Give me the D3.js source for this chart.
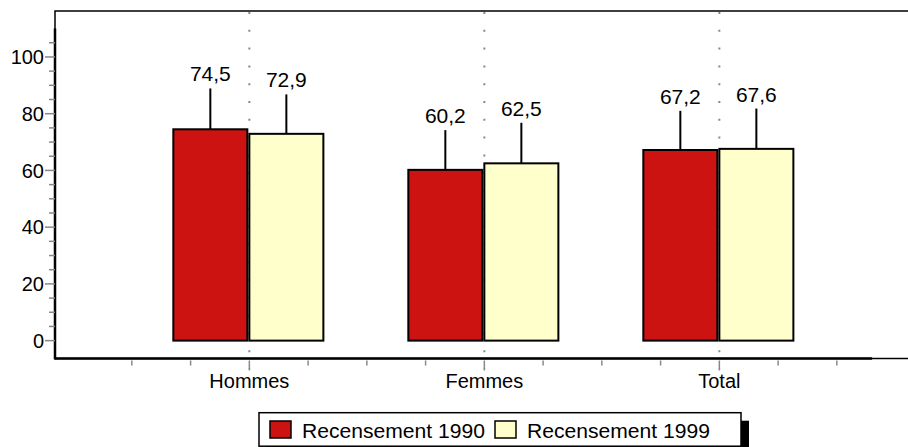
<!DOCTYPE html>
<html><head><meta charset="utf-8">
<script src="https://cdn.jsdelivr.net/npm/d3@7"></script>
<style>
html,body{margin:0;padding:0;background:#fff;}
svg{display:block;font-family:"Liberation Sans",Arial,sans-serif;}
</style></head>
<body>
<svg id="chart" width="908" height="447"></svg>
<script>
// ---- data ----
const categories = ["Hommes", "Femmes", "Total"];
const seriesNames = ["Recensement 1990", "Recensement 1999"];
const values1990 = [74.5, 60.2, 67.2];
const values1999 = [72.9, 62.5, 67.6];
const errors1990 = [14.4, 14.0, 13.8];
const errors1999 = [13.9, 14.3, 14.2];
const labels1990 = ["74,5", "60,2", "67,2"];
const labels1999 = ["72,9", "62,5", "67,6"];
const yMajorTicks = [0, 20, 40, 60, 80, 100];
const colors = ["#CD1212", "#FFFFCC"];

const svg = d3.select("#chart");
const L = 55, R = 905, T = 11, B = 358.5;
const x = d3.scaleLinear().domain([0.173, 3.79]).range([L, R]);
const y = d3.scaleLinear().domain([-6.3, 116.2]).range([B, T]);

// gridlines (dotted) at category positions
const catPos = categories.map((c, i) => i + 1);
svg.append("g").selectAll("line").data(catPos).join("line")
  .attr("x1", d => x(d)).attr("x2", d => x(d))
  .attr("y1", T + 1).attr("y2", B + 10)
  .attr("stroke", "#888").attr("stroke-width", 2)
  .attr("stroke-dasharray", "2,15.8");

// frame (thin)
svg.append("path")
  .attr("d", `M${R + 10},${T}H${L}V${B}H${R + 10}`)
  .attr("fill", "none").attr("stroke", "#000").attr("stroke-width", 1.5);

// y axis thick line
svg.append("line").attr("x1", L).attr("x2", L).attr("y1", y(110)).attr("y2", B + 1)
  .attr("stroke", "#000").attr("stroke-width", 2.5);
// x axis thick line
svg.append("line").attr("x1", L).attr("x2", x(3.65)).attr("y1", B).attr("y2", B)
  .attr("stroke", "#000").attr("stroke-width", 2.5);

// y ticks
const yMinor = d3.range(0, 106, 5).filter(v => !yMajorTicks.includes(v));
svg.append("g").selectAll("line").data(yMinor).join("line")
  .attr("x1", L - 6).attr("x2", L).attr("y1", d => y(d)).attr("y2", d => y(d))
  .attr("stroke", "#888").attr("stroke-width", 1.5);
svg.append("g").selectAll("line").data(yMajorTicks).join("line")
  .attr("x1", L - 10).attr("x2", L).attr("y1", d => y(d)).attr("y2", d => y(d))
  .attr("stroke", "#888").attr("stroke-width", 1.5);
svg.append("g").selectAll("text").data(yMajorTicks).join("text")
  .attr("x", L - 11).attr("y", d => y(d)).attr("dy", "0.36em")
  .attr("text-anchor", "end").attr("font-size", 20).attr("fill", "#000")
  .text(d => d);

// x ticks
const xMinor = d3.range(0.5, 3.51, 0.25).filter(v => Math.abs(v - Math.round(v)) > 0.01);
svg.append("g").selectAll("line").data(xMinor).join("line")
  .attr("x1", d => x(d)).attr("x2", d => x(d)).attr("y1", B + 2).attr("y2", B + 7)
  .attr("stroke", "#888").attr("stroke-width", 1.5);
svg.append("g").selectAll("line").data(catPos).join("line")
  .attr("x1", d => x(d)).attr("x2", d => x(d)).attr("y1", B + 2).attr("y2", B + 12)
  .attr("stroke", "#888").attr("stroke-width", 1.5);
svg.append("g").selectAll("text").data(categories).join("text")
  .attr("x", (d, i) => x(i + 1)).attr("y", B + 29)
  .attr("text-anchor", "middle").attr("font-size", 20).attr("fill", "#000")
  .text(d => d);

// bars
const step = x(2) - x(1);
const barW = step * 0.315;
const gap = 2;
const series = [
  {vals: values1990, errs: errors1990, labels: labels1990, off: -gap - barW, color: colors[0]},
  {vals: values1999, errs: errors1999, labels: labels1999, off: 0, color: colors[1]}
];
series.forEach(s => {
  const g = svg.append("g");
  const data = categories.map((c, i) => ({i, v: s.vals[i], e: s.errs[i], lab: s.labels[i]}));
  g.selectAll("line").data(data).join("line")
    .attr("x1", d => x(d.i + 1) + s.off + barW / 2).attr("x2", d => x(d.i + 1) + s.off + barW / 2)
    .attr("y1", d => y(d.v)).attr("y2", d => y(d.v + d.e))
    .attr("stroke", "#000").attr("stroke-width", 2);
  g.selectAll("rect").data(data).join("rect")
    .attr("x", d => x(d.i + 1) + s.off).attr("width", barW)
    .attr("y", d => y(d.v)).attr("height", d => y(0) - y(d.v))
    .attr("fill", s.color).attr("stroke", "#000").attr("stroke-width", 2);
  g.selectAll("text").data(data).join("text")
    .attr("x", d => x(d.i + 1) + s.off + barW / 2).attr("y", d => y(d.v + d.e) - 7)
    .attr("text-anchor", "middle").attr("font-size", 21).attr("fill", "#000")
    .text(d => d.lab);
});

// legend
const lg = svg.append("g");
const lx = 259, ly = 412.7, lw = 482, lh = 33.5;
lg.append("rect").attr("x", lx + 8).attr("y", ly + 8).attr("width", lw).attr("height", lh).attr("fill", "#000");
lg.append("rect").attr("x", lx).attr("y", ly).attr("width", lw).attr("height", lh)
  .attr("fill", "#fff").attr("stroke", "#000").attr("stroke-width", 1.5);
const itemX = [269, 494];
seriesNames.forEach((n, i) => {
  lg.append("rect").attr("x", itemX[i] + 1).attr("y", 421).attr("width", 21).attr("height", 17)
    .attr("fill", colors[i]).attr("stroke", "#000").attr("stroke-width", 1.5);
  lg.append("text").attr("x", itemX[i] + 33).attr("y", 437.5)
    .attr("font-size", 20).attr("fill", "#000")
    .attr("textLength", 183).attr("lengthAdjust", "spacingAndGlyphs").text(n);
});
</script>
</body></html>
